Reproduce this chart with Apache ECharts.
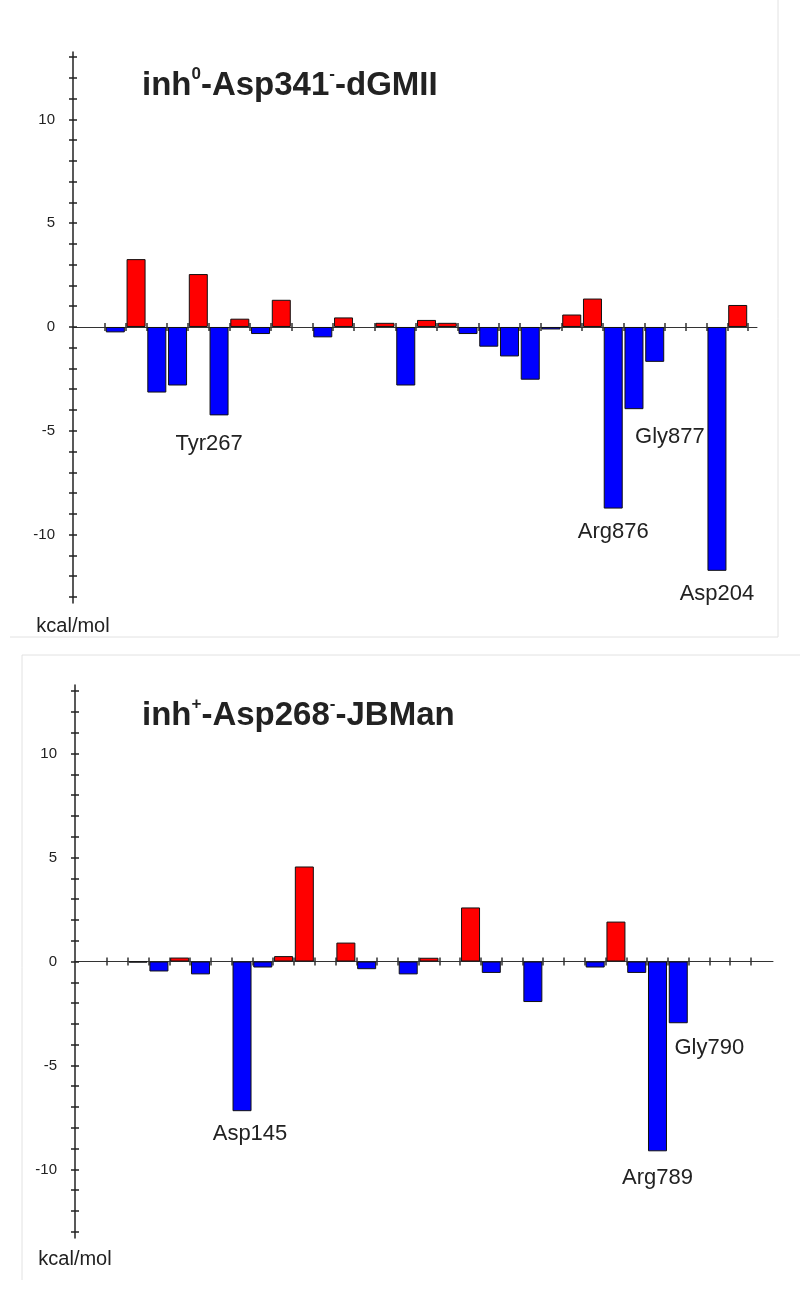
<!DOCTYPE html>
<html>
<head>
<meta charset="utf-8">
<script src="https://cdn.jsdelivr.net/npm/echarts@6/dist/echarts.min.js"></script>
<style>
  html, body { margin: 0; padding: 0; background: #fff; }
  #main { width: 800px; height: 1294px; }
</style>
</head>
<body>
<div id="main"></div>
<script>
// residue slots (31 per panel), null = empty slot
var topValues = [-0.26, 3.27, -3.16, -2.82, 2.55, -4.26, 0.40, -0.34, 1.31, null,
  -0.5, 0.46, null, 0.2, -2.82, 0.34, 0.2, -0.34, -0.95, -1.42,
  -2.54, -0.12, 0.6, 1.37, -8.75, -3.96, -1.68, null, null, -11.75, 1.06];
var topNames = ['', '', '', '', '', 'Tyr267', '', '', '', '',
  '', '', '', '', '', '', '', '', '', '',
  '', '', '', '', 'Arg876', 'Gly877', '', '', '', 'Asp204', ''];

var bottomValues = [null, -0.05, -0.48, 0.19, -0.62, null, -7.2, -0.29, 0.26, 4.57,
  null, 0.91, -0.37, null, -0.62, 0.18, null, 2.6, -0.55, null,
  -1.95, null, null, -0.29, 1.92, -0.55, -9.13, -2.97, null, null, null];
var bottomNames = ['', '', '', '', '', '', 'Asp145', '', '', '',
  '', '', '', '', '', '', '', '', '', '',
  '', '', '', '', '', '', 'Arg789', 'Gly790', '', '', ''];

var yTicks = [-13, -12, -11, -10, -9, -8, -7, -6, -5, -4, -3, -2, -1, 0, 1, 2, 3, 4, 5, 6, 7, 8, 9, 10, 11, 12, 13];
var yLabels = [-10, -5, 0, 5, 10];

// label offsets (px) for the named residues
var labelShift = { 'Tyr267': [-10, 6], 'Gly877': [36, 5], 'Asp145': [8, 0], 'Gly790': [31, 2], 'Arg789': [0, 4] };

var font = 'Liberation Sans, Arial, sans-serif';
var chart = echarts.init(document.getElementById('main'));

var slotTicks = [];
for (var i = 0; i <= 31; i++) slotTicks.push(i);

function barData(values, names) {
  var out = [];
  for (var i = 0; i < values.length; i++) {
    if (values[i] === null) continue;
    var item = {
      value: [i + 0.5, values[i]],
      itemStyle: { color: values[i] > 0 ? '#ff0000' : '#0000ff' }
    };
    if (names[i]) {
      item.label = {
        show: true,
        position: 'bottom',
        distance: 12,
        offset: labelShift[names[i]] || [0, 0],
        formatter: names[i],
        fontSize: 22,
        color: '#222',
        fontFamily: font
      };
    }
    out.push(item);
  }
  return out;
}

function xAxes(gi, min, max) {
  var list = [];
  [false, true].forEach(function (inside) {
    list.push({
      type: 'value', gridIndex: gi, min: min, max: max, position: 'bottom',
      axisLine: { show: !inside, onZero: true, lineStyle: { color: '#333', width: 1 } },
      axisTick: { show: true, length: 4, inside: inside, customValues: slotTicks, lineStyle: { color: '#333', width: 1.5 } },
      splitLine: { show: false },
      axisLabel: { show: false }
    });
  });
  return list;
}

function yAxes(gi, min, max, gap) {
  var a = {
    type: 'value', gridIndex: gi, min: min, max: max, position: 'left',
    name: 'kcal/mol', nameLocation: 'start', nameGap: gap,
    nameTextStyle: { fontSize: 20, color: '#222', fontFamily: font },
    axisLine: { show: true, onZero: false, lineStyle: { color: '#222', width: 1.5 } },
    axisTick: { show: true, length: 4, inside: false, customValues: yTicks, lineStyle: { color: '#222', width: 1.5 } },
    axisLabel: { show: true, customValues: yLabels, margin: 18, fontSize: 15, color: '#222', fontFamily: font },
    splitLine: { show: false }
  };
  var b = {
    type: 'value', gridIndex: gi, min: min, max: max, position: 'left',
    axisLine: { show: false, onZero: false },
    axisTick: { show: true, length: 4, inside: true, customValues: yTicks, lineStyle: { color: '#222', width: 1.5 } },
    axisLabel: { show: false },
    splitLine: { show: false }
  };
  return [a, b];
}

function titleText(sup1, mid, sup2, tail) {
  return '{b|inh}{s|' + sup1 + '}{b|' + mid + '}{s|' + sup2 + '}{b|' + tail + '}';
}
var titleRich = {
  b: { fontSize: 33, fontWeight: 'bold', color: '#222', fontFamily: font, lineHeight: 40 },
  s: { fontSize: 17, fontWeight: 'bold', color: '#222', fontFamily: font, lineHeight: 22, verticalAlign: 'top' }
};

var xa = xAxes(0, -1.54, 31.43).concat(xAxes(1, -1.54, 32.06));
var ya = yAxes(0, -13.3, 13.25, 13).concat(yAxes(1, -13.3, 13.3, 11));

chart.setOption({
  animation: false,
  title: [
    { text: titleText('0', '-Asp341', '-', '-dGMII'), left: 137, top: 61, textStyle: { rich: titleRich } },
    { text: titleText('+', '-Asp268', '-', '-JBMan'), left: 137, top: 691, textStyle: { rich: titleRich } }
  ],
  grid: [
    { left: 73, right: 43, top: 52, height: 551 },
    { left: 75, right: 27, top: 685, height: 553 }
  ],
  xAxis: xa,
  yAxis: ya,
  series: [
    {
      type: 'bar', xAxisIndex: 0, yAxisIndex: 0, barWidth: 19,
      itemStyle: { borderColor: '#111', borderWidth: 1 },
      data: barData(topValues, topNames)
    },
    {
      type: 'bar', xAxisIndex: 2, yAxisIndex: 2, barWidth: 19,
      itemStyle: { borderColor: '#111', borderWidth: 1 },
      data: barData(bottomValues, bottomNames)
    }
  ],
  // panel frame lines
  graphic: [
    { type: 'line', shape: { x1: 778, y1: 0, x2: 778, y2: 637 }, style: { stroke: '#e2e2e2', lineWidth: 1 } },
    { type: 'line', shape: { x1: 10, y1: 637, x2: 778, y2: 637 }, style: { stroke: '#e2e2e2', lineWidth: 1 } },
    { type: 'line', shape: { x1: 22, y1: 655, x2: 800, y2: 655 }, style: { stroke: '#e2e2e2', lineWidth: 1 } },
    { type: 'line', shape: { x1: 22, y1: 655, x2: 22, y2: 1280 }, style: { stroke: '#e2e2e2', lineWidth: 1 } }
  ]
});
</script>
</body>
</html>
